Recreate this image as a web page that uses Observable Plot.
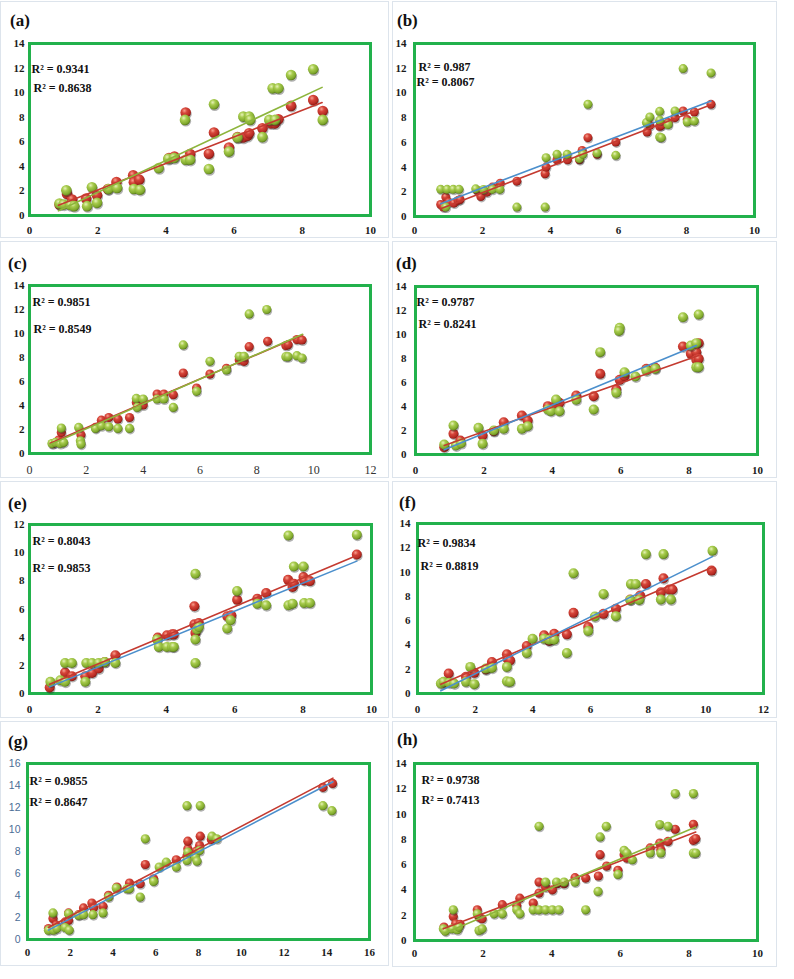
<!DOCTYPE html>
<html><head><meta charset="utf-8">
<script src="https://cdn.jsdelivr.net/npm/d3@7"></script>
<script src="https://cdn.jsdelivr.net/npm/@observablehq/plot@0.6"></script>
<style>
body{margin:0;background:#fff;}
#page{position:relative;width:794px;height:979px;overflow:hidden;}
.box{position:absolute;border:1px solid #dde4ec;box-sizing:border-box;}
.lab{position:absolute;font:bold 17px "Liberation Serif",serif;line-height:1;transform:translateY(-50%);color:#111;}
.panel{position:absolute;}
</style></head><body>
<svg width="0" height="0" style="position:absolute">
<defs>
<radialGradient id="gG" cx="38%" cy="32%" r="70%">
<stop offset="0%" stop-color="#e6f2b8"/><stop offset="35%" stop-color="#a8cc4e"/><stop offset="80%" stop-color="#7fa82c"/><stop offset="100%" stop-color="#55751a"/>
</radialGradient>
<radialGradient id="gR" cx="38%" cy="32%" r="70%">
<stop offset="0%" stop-color="#f7a08e"/><stop offset="35%" stop-color="#d6453a"/><stop offset="80%" stop-color="#b42a22"/><stop offset="100%" stop-color="#7c1510"/>
</radialGradient>
</defs></svg>
<div id="page"></div>
<script>
// ---------------- DATA ----------------
const panelLetters = ["(a)","(b)","(c)","(d)","(e)","(f)","(g)","(h)"];

// (a)
const a_green_x = [0.88,1.0,1.08,1.2,1.31,1.69,1.83,1.98,2.32,2.57,3.06,3.24,3.79,4.07,4.24,4.56,4.58,4.71,5.26,5.41,5.85,6.1,6.27,6.44,6.47,6.83,7.03,7.13,7.2,7.3,7.67,8.32,8.6];
const a_green_y = [0.97,0.9,2.05,0.85,0.76,0.76,2.3,1.03,2.16,2.24,2.16,2.1,3.86,4.62,4.68,7.78,4.54,4.54,3.78,9.05,5.2,6.35,8.05,8.05,7.78,6.38,7.78,10.35,7.78,10.35,11.43,11.9,7.78];
const a_red_x = [0.88,1.1,1.25,1.66,1.98,2.3,2.55,3.04,3.06,3.22,4.09,4.25,4.58,4.71,5.26,5.41,5.85,6.1,6.26,6.39,6.44,6.83,7.08,7.2,7.3,7.67,8.32,8.6];
const a_red_y = [0.9,1.76,1.3,1.38,1.65,2.16,2.73,3.27,2.7,2.92,4.68,4.8,8.38,5.0,5.03,6.76,5.54,6.38,6.35,6.49,6.7,7.1,7.5,7.5,7.84,8.92,9.4,8.51];
const a_fit1 = [0.85,0.38,8.58,10.43]; // green
const a_fit2 = [0.85,0.84,8.58,9.19];  // red
const a_r2 = ["R² = 0.9341","R² = 0.8638"];

// (b)
const b_green_x = [0.77,0.96,1.14,1.31,0.92,1.8,2.03,2.29,2.51,3.01,3.84,3.87,4.19,4.49,4.85,4.95,5.1,5.37,5.92,6.82,6.92,7.21,7.21,7.21,7.26,7.46,7.66,7.9,8.02,8.23,8.72];
const b_green_y = [2.2,2.2,2.2,2.2,0.76,2.24,2.19,2.19,2.19,0.76,0.76,4.76,5.03,5.03,4.68,5.03,9.08,5.14,4.95,7.6,8.05,8.51,7.78,6.43,6.38,7.43,8.54,11.97,7.65,7.73,11.62];
const b_red_x = [0.77,0.85,0.92,1.01,1.16,1.28,1.34,1.85,1.95,2.13,2.29,2.52,3.01,3.84,3.87,4.19,4.5,4.85,4.93,5.1,5.37,5.92,6.84,6.92,7.21,7.26,7.46,7.66,7.9,8.02,8.23,8.72];
const b_red_y = [0.97,0.76,1.57,1.16,1.08,1.3,1.38,2.1,1.62,1.97,2.38,2.7,2.86,3.46,4.0,4.59,4.59,4.59,5.35,6.38,5.03,6.03,6.84,7.38,7.3,7.38,7.6,8.0,8.54,7.84,8.46,9.08];
const b_fit1 = [0.77,1.03,8.72,9.35]; // blue
const b_fit2 = [0.77,0.62,8.72,9.05]; // red
const b_r2 = ["R² = 0.987","R² = 0.8067"];

// (c)
const c_green_x = [0.79,0.91,1.08,1.2,1.12,1.73,1.79,1.81,2.32,2.53,2.79,3.11,3.52,3.76,3.79,4.0,4.49,4.73,5.06,5.41,5.88,6.35,6.93,7.38,7.55,7.73,8.35,9.02,9.1,9.41,9.59];
const c_green_y = [0.83,0.92,0.83,0.92,2.12,2.17,1.06,0.78,2.09,2.31,2.23,2.09,2.09,4.59,3.84,4.54,4.54,4.54,3.84,9.05,5.18,7.68,6.96,8.1,8.1,11.63,12.0,8.07,8.07,8.15,7.96];
const c_red_x = [0.82,1.02,1.12,1.81,2.32,2.53,2.79,3.11,3.52,3.76,4.0,4.49,4.73,5.06,5.41,5.88,6.35,6.93,7.38,7.55,7.73,8.38,9.02,9.1,9.41,9.59];
const c_red_y = [0.83,1.11,1.75,1.56,2.17,2.78,3.0,2.87,3.0,4.26,4.04,4.95,4.95,4.9,6.71,5.46,6.62,7.1,7.79,7.68,8.9,9.35,8.99,9.07,9.49,9.46];
const c_fit2 = [0.73,0.85,9.61,9.88]; // red
const c_fit1 = [0.73,0.75,9.61,9.93]; // green
const c_r2 = ["R² = 0.9851","R² = 0.8549"];

// (d)
const d_green_x = [0.84,1.11,1.18,1.33,1.84,1.96,2.29,2.58,3.11,3.28,3.87,3.96,4.11,4.21,4.7,5.21,5.4,5.87,5.97,5.95,6.11,6.43,6.75,7.01,7.82,8.05,8.21,8.28,8.21,8.28];
const d_green_y = [0.83,2.42,0.75,0.94,2.22,0.89,2.0,2.14,2.14,2.36,3.75,3.61,4.58,3.61,4.56,3.75,8.53,5.14,10.56,10.3,6.86,6.5,7.0,7.14,11.44,9.08,9.28,11.67,7.28,7.28];
const d_red_x = [0.84,1.11,1.31,1.96,2.29,2.58,3.11,3.28,3.87,4.11,4.21,4.7,5.21,5.4,5.87,5.97,6.11,6.75,7.01,7.82,8.05,8.21,8.21,8.28,8.28];
const d_red_y = [0.61,1.72,1.17,1.58,1.94,2.69,3.25,2.83,4.03,4.22,4.31,4.92,4.86,6.72,5.42,6.22,6.53,7.14,7.22,9.0,8.39,8.53,7.89,9.28,7.97];
const d_fit1 = [0.84,0.39,8.21,9.08]; // blue
const d_fit2 = [0.84,0.75,8.28,8.25]; // red
const d_r2 = ["R² = 0.9787","R² = 0.8241"];

// (e)
const e_green_x = [0.61,0.9,1.04,1.04,1.24,1.63,1.66,1.83,2.02,2.2,2.51,3.73,3.78,4.02,4.17,4.22,4.85,4.85,4.85,4.9,4.95,5.78,5.88,6.07,6.66,6.92,7.57,7.57,7.69,7.73,8.01,8.03,8.2,9.57];
const e_green_y = [0.83,0.94,2.17,0.83,2.17,0.83,2.17,2.17,2.17,2.24,2.17,3.83,3.31,3.31,3.31,3.31,8.5,3.83,2.17,4.54,4.72,4.61,5.2,7.28,6.38,6.26,11.22,6.26,6.38,9.02,9.02,6.43,6.43,11.27];
const e_red_x = [0.59,1.04,1.24,1.63,1.83,2.02,2.2,2.51,3.75,4.02,4.17,4.22,4.82,4.82,4.85,4.95,5.78,5.9,6.07,6.66,6.92,7.56,7.69,7.73,8.01,8.03,8.2,9.57];
const e_red_y = [0.43,1.49,1.23,1.23,1.46,1.77,2.24,2.72,3.97,4.13,4.2,4.2,6.19,4.91,4.3,5.0,5.48,5.55,6.66,6.73,7.13,8.08,7.56,7.8,8.27,8.03,7.98,9.87];
const e_fit2 = [0.59,0.66,9.57,9.8];  // red
const e_fit1 = [0.59,0.47,9.57,9.4];  // blue
const e_r2 = ["R² = 0.8043","R² = 0.9853"];

// (f)
const f_green_x = [0.81,0.9,1.1,1.27,1.68,1.83,1.97,2.37,2.58,3.1,3.1,3.21,3.79,3.99,4.39,4.57,4.74,5.18,5.41,5.92,6.15,6.45,6.88,7.38,7.4,7.57,7.69,7.92,8.53,8.44,8.79,10.23];
const f_green_y = [0.82,0.96,0.88,0.82,0.96,2.19,0.77,2.05,2.11,2.19,1.01,0.96,3.34,4.51,4.51,4.43,4.43,3.34,9.9,5.14,6.34,8.2,6.37,7.71,9.02,9.02,7.71,11.48,11.48,7.74,7.74,11.76];
const f_red_x = [0.87,1.08,1.68,1.97,2.37,2.58,3.1,3.12,3.21,3.79,4.39,4.57,4.74,5.18,5.41,5.92,6.45,6.88,7.38,7.72,7.92,8.44,8.53,8.73,8.84,10.2];
const f_red_y = [0.88,1.64,1.37,1.7,1.97,2.6,3.23,2.87,2.73,3.91,4.79,4.32,4.92,4.87,6.64,5.47,6.56,6.97,7.74,8.07,9.02,8.34,9.49,8.56,8.56,10.12];
const f_fit1 = [0.81,0.22,10.23,11.27]; // blue
const f_fit2 = [0.81,0.77,10.23,10.39]; // red
const f_r2 = ["R² = 0.9834","R² = 0.8819"];

// (g)
const g_green_x = [0.98,1.22,1.19,1.37,1.76,1.92,1.95,2.39,2.62,3.06,3.53,3.79,4.15,4.65,4.77,5.27,5.51,5.9,6.16,6.49,6.96,7.46,7.46,7.5,7.85,7.93,8.05,8.08,8.63,8.86,13.82,14.24];
const g_green_y = [0.85,0.85,2.42,1.0,1.09,2.35,0.85,2.2,2.26,2.26,2.42,3.86,4.68,4.62,4.62,3.86,9.15,5.28,6.58,7.03,6.58,12.17,7.18,7.94,7.49,7.12,8.09,12.17,9.39,9.15,12.17,11.71];
const g_red_x = [0.98,1.19,1.34,1.76,1.92,1.92,2.39,2.62,3.01,3.09,3.53,3.79,4.18,4.77,5.27,5.51,5.9,6.96,7.46,7.5,7.5,7.89,8.05,8.08,8.6,13.82,14.27];
const g_red_y = [1.0,1.9,1.3,1.6,2.42,1.75,2.26,2.87,3.32,2.9,3.02,4.02,4.77,5.13,5.07,6.82,5.52,7.25,7.58,8.24,8.94,8.03,8.54,9.39,9.09,13.83,14.19];
const g_fit2 = [0.98,1.09,14.29,14.67]; // red
const g_fit1 = [0.98,0.85,14.29,14.34]; // blue
const g_r2 = ["R² = 0.9855","R² = 0.8647"];

// (h)
const h_green_x = [0.84,0.9,1.1,1.13,1.25,1.29,1.83,1.88,1.97,2.32,2.56,2.98,3.07,3.46,3.63,3.63,3.82,3.82,4.02,4.14,4.21,4.36,4.68,4.99,5.35,5.41,5.59,5.93,6.11,6.19,6.35,6.87,7.15,7.18,7.39,7.6,8.13,8.13,8.2];
const h_green_y = [0.92,0.74,0.92,2.43,0.85,1.06,2.11,0.79,0.92,2.11,2.11,2.43,2.11,2.43,9.03,2.43,4.62,2.43,2.43,4.62,2.43,4.62,4.62,2.43,3.88,8.19,9.03,5.23,7.13,6.92,6.39,6.92,9.17,6.92,9.03,11.62,11.62,6.92,6.92];
const h_red_x = [0.86,1.13,1.2,1.33,1.83,1.88,1.97,2.56,2.98,3.07,3.46,3.63,3.63,3.82,4.02,4.16,4.36,4.68,4.99,5.36,5.41,5.6,5.93,6.11,6.19,6.87,7.15,7.18,7.39,7.6,8.13,8.13,8.2];
const h_red_y = [1.06,1.9,1.32,1.27,2.43,1.85,1.72,2.83,2.77,3.35,2.96,4.62,3.75,4.23,4.01,4.49,4.49,4.97,4.94,5.1,6.79,5.89,5.55,6.79,6.52,7.32,7.71,7.18,7.84,8.8,9.19,7.92,8.06];
const h_fit1 = [0.84,0.53,8.2,8.98]; // green
const h_fit2 = [0.84,0.92,8.2,8.58]; // red
const h_r2 = ["R² = 0.9738","R² = 0.7413"];

// axis ticks
const ticks10 = [0,2,4,6,8,10];
const ticks12 = [0,2,4,6,8,10,12];
const ticks14 = [0,2,4,6,8,10,14,12].sort((a,b)=>a-b);
const ticks16 = [0,2,4,6,8,10,12,14,16];

// ---------------- LAYOUT / STYLE ----------------
const C_GREEN_LINE = "#8db53c", C_RED_LINE = "#c43a30", C_BLUE_LINE = "#4b8fcc";
const panels = [
 {lab:"(a)", lx:10, ly:20, F:[29,370,43,215], xd:10, yd:14, xt:ticks10, yt:ticks14, gx:a_green_x, gy:a_green_y, rx:a_red_x, ry:a_red_y, f1:a_fit1, c1:C_GREEN_LINE, f2:a_fit2, c2:C_RED_LINE, r2:a_r2, t:[[2,26],[4,45]], ypad:5, xpad:11, r:5.3},
 {lab:"(b)", lx:397, ly:20, F:[414,754,43,216], xd:10, yd:14, xt:ticks10, yt:ticks14, gx:b_green_x, gy:b_green_y, rx:b_red_x, ry:b_red_y, f1:b_fit1, c1:C_BLUE_LINE, f2:b_fit2, c2:C_RED_LINE, r2:b_r2, t:[[4,24],[2,39]], ypad:8, xpad:10, r:4.5},
 {lab:"(c)", lx:8, ly:263, F:[29,370,285,453], xd:12, yd:14, xt:ticks12, yt:ticks14, gx:c_green_x, gy:c_green_y, rx:c_red_x, ry:c_red_y, f2:c_fit2, c2:C_RED_LINE, f1:c_fit1, c1:C_GREEN_LINE, r2:c_r2, t:[[3,17],[4,44]], ypad:5, xpad:12, r:4.6, xNormal:true},
 {lab:"(d)", lx:396, ly:263, F:[415,757,286,454], xd:10, yd:14, xt:ticks10, yt:ticks14, gx:d_green_x, gy:d_green_y, rx:d_red_x, ry:d_red_y, f1:d_fit1, c1:C_BLUE_LINE, f2:d_fit2, c2:C_RED_LINE, r2:d_r2, t:[[1,16],[3,38]], ypad:9, xpad:12, r:5},
 {lab:"(e)", lx:8, ly:503, F:[29,371,524,693], xd:10, yd:12, xt:ticks10, yt:ticks12, gx:e_green_x, gy:e_green_y, rx:e_red_x, ry:e_red_y, f1:e_fit1, c1:C_BLUE_LINE, f2:e_fit2, c2:C_RED_LINE, r2:e_r2, t:[[3,17],[3,44]], ypad:5, xpad:12, r:5},
 {lab:"(f)", lx:399, ly:502, F:[417,763,523,693], xd:12, yd:14, xt:ticks12, yt:ticks14, gx:f_green_x, gy:f_green_y, rx:f_red_x, ry:f_red_y, f1:f_fit1, c1:C_BLUE_LINE, f2:f_fit2, c2:C_RED_LINE, r2:f_r2, t:[[0,20],[3,43]], ypad:7, xpad:12, r:5},
 {lab:"(g)", lx:8, ly:741, F:[27,369,763,939], xd:16, yd:16, xt:ticks16, yt:ticks16, gx:g_green_x, gy:g_green_y, rx:g_red_x, ry:g_red_y, f1:g_fit1, c1:C_BLUE_LINE, f2:g_fit2, c2:C_RED_LINE, r2:g_r2, t:[[2,18],[2,39]], ypad:7, xpad:9, r:4.6, ySans:true},
 {lab:"(h)", lx:397, ly:739, F:[414,757,763,940], xd:10, yd:14, xt:ticks10, yt:ticks14, gx:h_green_x, gy:h_green_y, rx:h_red_x, ry:h_red_y, f1:h_fit1, c1:C_GREEN_LINE, f2:h_fit2, c2:C_RED_LINE, r2:h_r2, t:[[7,17],[7,37]], ypad:8, xpad:9, r:4.6}
];
const boxes = [[0,1,389,238],[392,1,777,238],[0,241,389,478],[392,241,777,478],[0,481,389,718],[392,481,777,718],[0,721,389,966],[392,721,777,967]];

const page = document.getElementById("page");
boxes.forEach(([x1,y1,x2,y2]) => {
  const d = document.createElement("div"); d.className="box";
  Object.assign(d.style,{left:x1+"px",top:y1+"px",width:(x2-x1)+"px",height:(y2-y1)+"px"});
  page.appendChild(d);
});

const mL=36, mR=14, mT=14, mB=28;
panels.forEach(p => {
  const [L,R,T,B] = p.F;
  const pts = (xs,ys) => xs.map((x,i)=>({x, y:ys[i]}));
  const G = pts(p.gx,p.gy), Rd = pts(p.rx,p.ry);
  const seg = f => [[f[0],f[1]],[f[2],f[3]]];
  const serif = '"Liberation Serif", serif';
  const svg = Plot.plot({
    width:(R-L)+mL+mR, height:(B-T)+mT+mB,
    marginLeft:mL, marginRight:mR, marginTop:mT, marginBottom:mB,
    x:{domain:[0,p.xd]}, y:{domain:[0,p.yd]},
    style:{background:"transparent", overflow:"visible", fontFamily:serif, fontSize:"11px", color:"#1a1a1a"},
    marks:[
      Plot.axisX({ticks:p.xt, tickSize:0, tickPadding:p.xpad, label:null, tickFormat:d=>String(d),
        fontWeight:p.xNormal?"normal":"bold", fontSize:p.xNormal?12:11, fill:p.xNormal?"#333":"#1a1a1a"}),
      Plot.axisY({ticks:p.yt, tickSize:0, tickPadding:p.ypad, label:null, tickFormat:d=>String(d),
        fontWeight:p.ySans?"normal":"bold", fontFamily:p.ySans?'"Liberation Sans", sans-serif':serif,
        fontSize:p.ySans?10.5:11, fill:p.ySans?"#4a6d96":"#1a1a1a"}),
      Plot.frame({stroke:"#22b14c", strokeWidth:3}),
      Plot.dot(Rd,{x:"x",y:"y",r:p.r,fill:"#222",fillOpacity:0.35,dx:0.8,dy:1.4}),
      Plot.dot(Rd,{x:"x",y:"y",r:p.r,fill:"url(#gR)"}),
      Plot.dot(G,{x:"x",y:"y",r:p.r,fill:"#222",fillOpacity:0.35,dx:0.8,dy:1.4}),
      Plot.dot(G,{x:"x",y:"y",r:p.r,fill:"url(#gG)"}),
      Plot.line(seg(p.f2),{stroke:p.c2,strokeWidth:1.6}),
      Plot.line(seg(p.f1),{stroke:p.c1,strokeWidth:1.6}),
      Plot.text([p.r2[0]],{frameAnchor:"top-left",text:d=>d,dx:p.t[0][0],dy:p.t[0][1],lineAnchor:"middle",textAnchor:"start",fontWeight:"bold",fontSize:12,fontFamily:serif,fill:"#111"}),
      Plot.text([p.r2[1]],{frameAnchor:"top-left",text:d=>d,dx:p.t[1][0],dy:p.t[1][1],lineAnchor:"middle",textAnchor:"start",fontWeight:"bold",fontSize:12,fontFamily:serif,fill:"#111"})
    ]
  });
  const wrap = document.createElement("div"); wrap.className="panel";
  Object.assign(wrap.style,{left:(L-mL)+"px", top:(T-mT)+"px"});
  wrap.appendChild(svg);
  page.appendChild(wrap);
  const lab = document.createElement("div"); lab.className="lab"; lab.textContent=p.lab;
  Object.assign(lab.style,{left:p.lx+"px", top:p.ly+"px"});
  page.appendChild(lab);
});
</script>
</body></html>
